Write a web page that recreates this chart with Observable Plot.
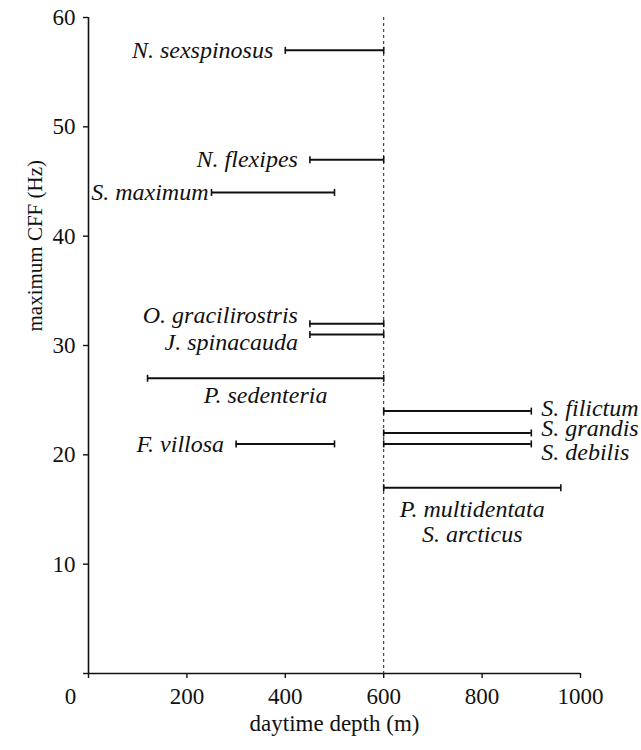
<!DOCTYPE html>
<html>
<head>
<meta charset="utf-8">
<script src="https://cdn.jsdelivr.net/npm/d3@7"></script>
<script src="https://cdn.jsdelivr.net/npm/@observablehq/plot@0.6"></script>
<style>
  body { margin: 0; background: white; }
  svg, svg text { font-family: 'Liberation Serif', 'Times New Roman', serif !important; }
</style>
</head>
<body>
<div id="chart"></div>
<script>
const species = ["N. sexspinosus", "N. flexipes", "S. maximum", "O. gracilirostris", "J. spinacauda",
  "P. sedenteria", "S. filictum", "S. grandis", "S. debilis", "F. villosa", "P. multidentata\nS. arcticus"];
const maxCFF = [57, 47, 44, 32, 31, 27, 24, 22, 21, 21, 17];
const depthMin = [400, 450, 250, 450, 450, 120, 600, 600, 600, 300, 600];
const depthMax = [600, 600, 500, 600, 600, 600, 900, 900, 900, 500, 960];
const xTicks = [0, 200, 400, 600, 800, 1000];
const yTicks = [0, 10, 20, 30, 40, 50, 60];
const boundaryDepth = [600];
const xTitle = "daytime depth (m)";
const yTitle = "maximum CFF (Hz)";

const rows = species.map((s, i) => ({name: s, cff: maxCFF[i], lo: depthMin[i], hi: depthMax[i]}));

// label placement (style, not data)
const rightSide = new Set(["S. filictum", "S. grandis", "S. debilis"]);
const below = new Set(["P. sedenteria", "P. multidentata\nS. arcticus"]);
const leftRows = rows.filter(d => !rightSide.has(d.name) && !below.has(d.name));
const rightRows = rows.filter(d => rightSide.has(d.name));
const belowRows = rows.filter(d => below.has(d.name));
const dyMap = {"O. gracilirostris": -8, "J. spinacauda": 8, "S. filictum": -3, "S. grandis": -5, "S. debilis": 8,
  "P. sedenteria": 7, "P. multidentata\nS. arcticus": 11};
const dxMap = {"S. maximum": -3};

const cap = {draw(ctx) { ctx.moveTo(0, -3.5); ctx.lineTo(0, 3.5); }};
const serif = "'Liberation Serif', 'Times New Roman', serif";
const fmt = d => d === 0 ? "" : String(d);

const chart = Plot.plot({
  width: 641,
  height: 750,
  marginLeft: 88,
  marginRight: 61,
  marginTop: 17,
  marginBottom: 77,
  style: {fontFamily: serif, fontSize: "22px", color: "#111", background: "white"},
  x: {domain: [0, 1000]},
  y: {domain: [0, 60]},
  marks: [
    Plot.ruleX(boundaryDepth, {strokeDasharray: "3,3", strokeWidth: 1, stroke: "#222"}),
    Plot.ruleY([0], {strokeWidth: 1.6, stroke: "#111"}),
    Plot.ruleX([0], {strokeWidth: 1.6, stroke: "#111"}),
    Plot.axisX({ticks: xTicks, tickSize: 5, tickPadding: 9, tickFormat: fmt, label: null, fontSize: 23, fontFamily: serif, strokeWidth: 1.4}),
    Plot.axisX({ticks: [0], tickSize: 0, tickPadding: 14, dx: -18, tickFormat: d => String(d), label: null, fontSize: 23, fontFamily: serif}),
    Plot.axisY({ticks: yTicks, tickSize: 5, tickPadding: 8, tickFormat: fmt, label: null, fontSize: 23, fontFamily: serif, strokeWidth: 1.4}),
    Plot.ruleY(rows, {x1: "lo", x2: "hi", y: "cff", strokeWidth: 2, stroke: "#111"}),
    Plot.dot(rows, {x: "lo", y: "cff", symbol: cap, fill: "none", stroke: "#111", strokeWidth: 1.6, r: 3}),
    Plot.dot(rows, {x: "hi", y: "cff", symbol: cap, fill: "none", stroke: "#111", strokeWidth: 1.6, r: 3}),
    ...leftRows.map(d => Plot.text([d], {x: "lo", y: "cff", text: "name", textAnchor: "end",
      dx: dxMap[d.name] ?? -12, dy: dyMap[d.name] ?? 0, fontStyle: "italic", fontFamily: serif, fontSize: 24, fill: "#111"})),
    ...rightRows.map(d => Plot.text([d], {x: "hi", y: "cff", text: "name", textAnchor: "start",
      dx: 10, dy: dyMap[d.name] ?? 0, fontStyle: "italic", fontFamily: serif, fontSize: 24, fill: "#111"})),
    ...belowRows.map(d => Plot.text([d], {x: r => (r.lo + r.hi) / 2, y: "cff", text: "name", lineAnchor: "top",
      lineHeight: 1.05, dy: dyMap[d.name] ?? 10, fontStyle: "italic", fontFamily: serif, fontSize: 24, fill: "#111"})),
    Plot.text([xTitle], {frameAnchor: "bottom", dy: 57, fontSize: 23, fontFamily: serif, fill: "#111"}),
    Plot.text([yTitle], {frameAnchor: "left", dx: -53, dy: -14, rotate: -90, fontSize: 21, fontFamily: serif, fill: "#111"})
  ]
});
document.getElementById("chart").appendChild(chart);
</script>
</body>
</html>
